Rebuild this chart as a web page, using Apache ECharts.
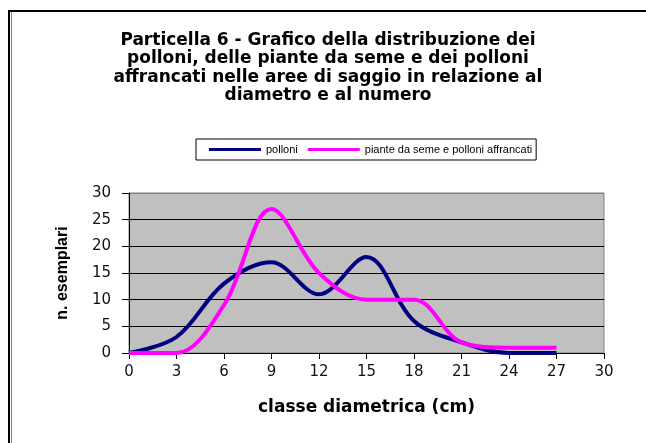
<!DOCTYPE html>
<html>
<head>
<meta charset="utf-8">
<script src="https://cdn.jsdelivr.net/npm/echarts@6/dist/echarts.min.js"></script>
<style>html,body{margin:0;padding:0;background:#fff}#c{width:646px;height:443px}</style>
</head>
<body>
<div id="c"></div>
<script>
var classi = [0, 3, 6, 9, 12, 15, 18, 21, 24, 27];
var polloni = [0, 3, 13, 17, 11, 18, 6, 2, 0, 0];
var piante = [0, 0, 9, 27, 15, 10, 10, 2, 1, 1];
var xTicks = [0, 3, 6, 9, 12, 15, 18, 21, 24, 27, 30];
var yTicks = [0, 5, 10, 15, 20, 25, 30];

var WIDE = '"DejaVu Sans", Verdana, sans-serif';
var NARROW = '"Liberation Sans", Arial, sans-serif';
var chart = echarts.init(document.getElementById('c'), null, {renderer: 'canvas'});

function pairs(xs, ys) { return xs.map(function (x, i) { return [x, ys[i]]; }); }

chart.setOption({
  animation: false,
  backgroundColor: '#ffffff',
  title: {
    text: 'Particella 6 - Grafico della distribuzione dei\npolloni, delle piante da seme e dei polloni\naffrancati nelle aree di saggio in relazione al\ndiametro e al numero',
    left: 323, top: 26, textAlign: 'center',
    textStyle: {fontFamily: WIDE, fontSize: 17, fontWeight: 'bold', color: '#000', lineHeight: 18.5}
  },
  legend: {
    left: 196, top: 139, width: 343,
    padding: [5, 4, 5, 13],
    borderColor: '#000', borderWidth: 1,
    itemWidth: 52, itemHeight: 3, itemGap: 10,
    icon: 'rect',
    textStyle: {fontFamily: NARROW, fontSize: 11, color: '#000'},
    data: ['polloni', 'piante da seme e polloni affrancati']
  },
  grid: {
    left: 129, right: 42, top: 193, bottom: 90,
    show: true, backgroundColor: '#C0C0C0', borderColor: '#808080', borderWidth: 1
  },
  xAxis: {
    type: 'value', min: xTicks[0], max: xTicks[xTicks.length - 1], interval: 3,
    name: 'classe diametrica (cm)', nameLocation: 'middle', nameGap: 46,
    nameTextStyle: {fontFamily: WIDE, fontSize: 17, fontWeight: 'bold', color: '#000'},
    axisLine: {show: true, onZero: false, lineStyle: {color: '#000', width: 1}},
    axisTick: {show: true, length: 6, lineStyle: {color: '#000'}},
    axisLabel: {fontFamily: WIDE, fontSize: 15, color: '#111', margin: 12},
    splitLine: {show: false}
  },
  yAxis: {
    type: 'value', min: yTicks[0], max: yTicks[yTicks.length - 1], interval: 5,
    name: 'n. esemplari', nameLocation: 'middle', nameGap: 58,
    nameTextStyle: {fontFamily: NARROW, fontSize: 16, fontWeight: 'bold', color: '#000'},
    axisLine: {show: true, lineStyle: {color: '#000', width: 1}},
    axisTick: {show: true, length: 7, lineStyle: {color: '#000'}},
    axisLabel: {fontFamily: WIDE, fontSize: 15, color: '#111', margin: 18},
    splitLine: {show: true, lineStyle: {color: ['#000', '#000', '#000', '#000', '#000', '#000', '#808080'], width: 1}}
  },
  series: [
    {
      name: 'polloni', type: 'line', smooth: 0.35, symbol: 'none',
      lineStyle: {color: '#000080', width: 4}, itemStyle: {color: '#000080'},
      data: pairs(classi, polloni)
    },
    {
      name: 'piante da seme e polloni affrancati', type: 'line', smooth: 0.35, symbol: 'none',
      lineStyle: {color: '#FF00FF', width: 4}, itemStyle: {color: '#FF00FF'},
      data: pairs(classi, piante)
    }
  ],
  graphic: [
    {type: 'line', shape: {x1: 8, y1: 11, x2: 646, y2: 11}, style: {stroke: '#000', lineWidth: 2}},
    {type: 'line', shape: {x1: 9, y1: 10, x2: 9, y2: 443}, style: {stroke: '#000', lineWidth: 2}},
    {type: 'line', shape: {x1: 11.5, y1: 12, x2: 11.5, y2: 443}, style: {stroke: '#808080', lineWidth: 1}}
  ]
});
</script>
</body>
</html>
